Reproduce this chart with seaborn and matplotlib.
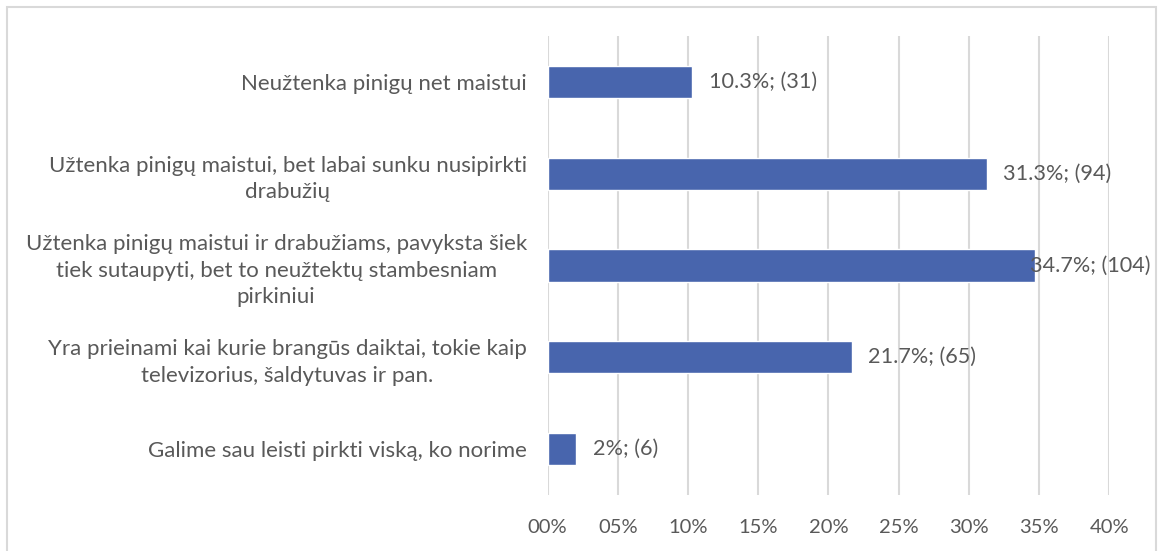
import matplotlib
matplotlib.use("Agg")
import matplotlib.pyplot as plt
import seaborn as sns
import pandas as pd
from matplotlib.patches import Rectangle

categories = [
    "Neužtenka pinigų net maistui",
    "Užtenka pinigų maistui, bet labai sunku nusipirkti\ndrabužių",
    "Užtenka pinigų maistui ir drabužiams, pavyksta šiek\ntiek sutaupyti, bet to neužtektų stambesniam\npirkiniui",
    "Yra prieinami kai kurie brangūs daiktai, tokie kaip\ntelevizorius, šaldytuvas ir pan.",
    "Galime sau leisti pirkti viską, ko norime",
]
percent = [10.3, 31.3, 34.7, 21.7, 2.0]
counts = [31, 94, 104, 65, 6]
value_labels = ["10.3%", "31.3%", "34.7%", "21.7%", "2%"]
ticks = [0, 5, 10, 15, 20, 25, 30, 35, 40]
tick_labels = ["00%", "05%", "10%", "15%", "20%", "25%", "30%", "35%", "40%"]

df = pd.DataFrame({"cat": categories, "pct": percent})

sns.set_theme(style="white")
plt.rcParams["font.family"] = ["Lato", "DejaVu Sans"]

bar_color = "#4865AD"
text_color = "#595959"
grid_color = "#D9D9D9"

fig = plt.figure(figsize=(11.6, 5.51), dpi=100)
fig.patches.append(Rectangle((7 / 1160, -0.05), 1149 / 1160, 1.05 - 7 / 551,
                             transform=fig.transFigure, fill=False,
                             edgecolor=grid_color, linewidth=1.5, zorder=0))
ax = fig.add_axes([547.6 / 1160, 1 - 495 / 551, 561.6 / 1160, 459 / 551])

sns.barplot(data=df, x="pct", y="cat", color=bar_color, width=0.35,
            saturation=1, ax=ax, zorder=3)

ax.set_xlim(0, 40)
ax.set_xticks(ticks)
ax.set_xticklabels(tick_labels)
ax.xaxis.grid(True, color=grid_color, linewidth=1.5, zorder=0)
ax.yaxis.grid(False)
for s in ax.spines.values():
    s.set_visible(False)
ax.tick_params(axis="x", length=0, pad=17, labelsize=14.5, labelcolor=text_color)
ax.tick_params(axis="y", length=0, pad=15, labelsize=16, labelcolor=text_color)
for lbl in ax.get_yticklabels():
    lbl.set_multialignment("center")
    lbl.set_linespacing(1.4)
ax.set_xlabel("")
ax.set_ylabel("")

offsets = [17, 16, -5, 16, 17]
for i, (p, c, v) in enumerate(zip(percent, counts, value_labels)):
    ax.annotate(f"{v}; ({c})", xy=(p, i), xytext=(offsets[i] * 0.72, 0),
                textcoords="offset points", ha="left", va="center",
                fontsize=15.6, color=text_color, zorder=5, annotation_clip=False)

fig.savefig("out.png", dpi=100)
